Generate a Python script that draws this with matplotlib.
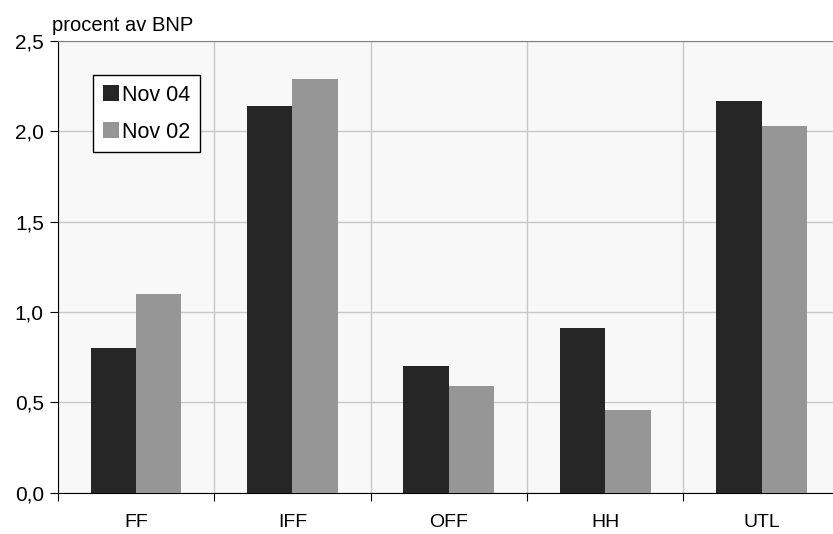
import numpy as np
import matplotlib
matplotlib.use("Agg")
import matplotlib.pyplot as plt
from matplotlib.ticker import FuncFormatter

plt.rcParams['font.family'] = ['Liberation Sans', 'DejaVu Sans']

categories = ["FF", "IFF", "OFF", "HH", "UTL"]
nov04 = [0.80, 2.14, 0.70, 0.91, 2.17]
nov02 = [1.10, 2.29, 0.59, 0.46, 2.03]
series_labels = ["Nov 04", "Nov 02"]

dark = "#262626"
light = "#969696"

fig = plt.figure(figsize=(8.33, 5.34), dpi=100)
ax = fig.add_axes([0.0693, 0.0773, 0.939, 0.846])
ax.set_facecolor("#f8f8f8")

x = np.arange(len(categories)) + 0.5
w = 0.29
ax.bar(x - w / 2, nov04, w, color=dark, label=series_labels[0], zorder=3)
ax.bar(x + w / 2, nov02, w, color=light, label=series_labels[1], zorder=3)

ax.set_xlim(0, len(categories))
ax.set_ylim(0, 2.5)

# major ticks at category boundaries, labels on minor ticks at centres
ax.set_xticks(np.arange(len(categories) + 1))
ax.set_xticklabels([])
ax.set_xticks(x, minor=True)
ax.set_xticklabels(categories, minor=True, fontsize=14)
ax.tick_params(axis="x", which="major", length=6, direction="out", color="black")
ax.tick_params(axis="x", which="minor", length=0, pad=15)

ax.set_yticks(np.arange(0, 2.51, 0.5))
ax.yaxis.set_major_formatter(FuncFormatter(lambda v, p: f"{v:.1f}".replace(".", ",")))
ax.tick_params(axis="y", length=6, direction="out", labelsize=15, pad=4)

ax.grid(True, which="major", color="#c8c8c8", linewidth=1, zorder=0)

ax.spines["left"].set_color("black")
ax.spines["bottom"].set_color("black")
ax.spines["top"].set_color("#808080")
ax.spines["right"].set_visible(False)

fig.text(0.0625, 0.953, "procent av BNP", fontsize=14.5, ha="left", va="center")

leg = ax.legend(loc="upper left", bbox_to_anchor=(0.045, 0.925), borderaxespad=0,
                fontsize=15.5, handlelength=0.75, handleheight=0.75,
                handletextpad=0.15, labelspacing=0.75, borderpad=0.45,
                fancybox=False, framealpha=1, edgecolor="black")
leg.get_frame().set_linewidth(1)

fig.savefig("out.png", dpi=100)
